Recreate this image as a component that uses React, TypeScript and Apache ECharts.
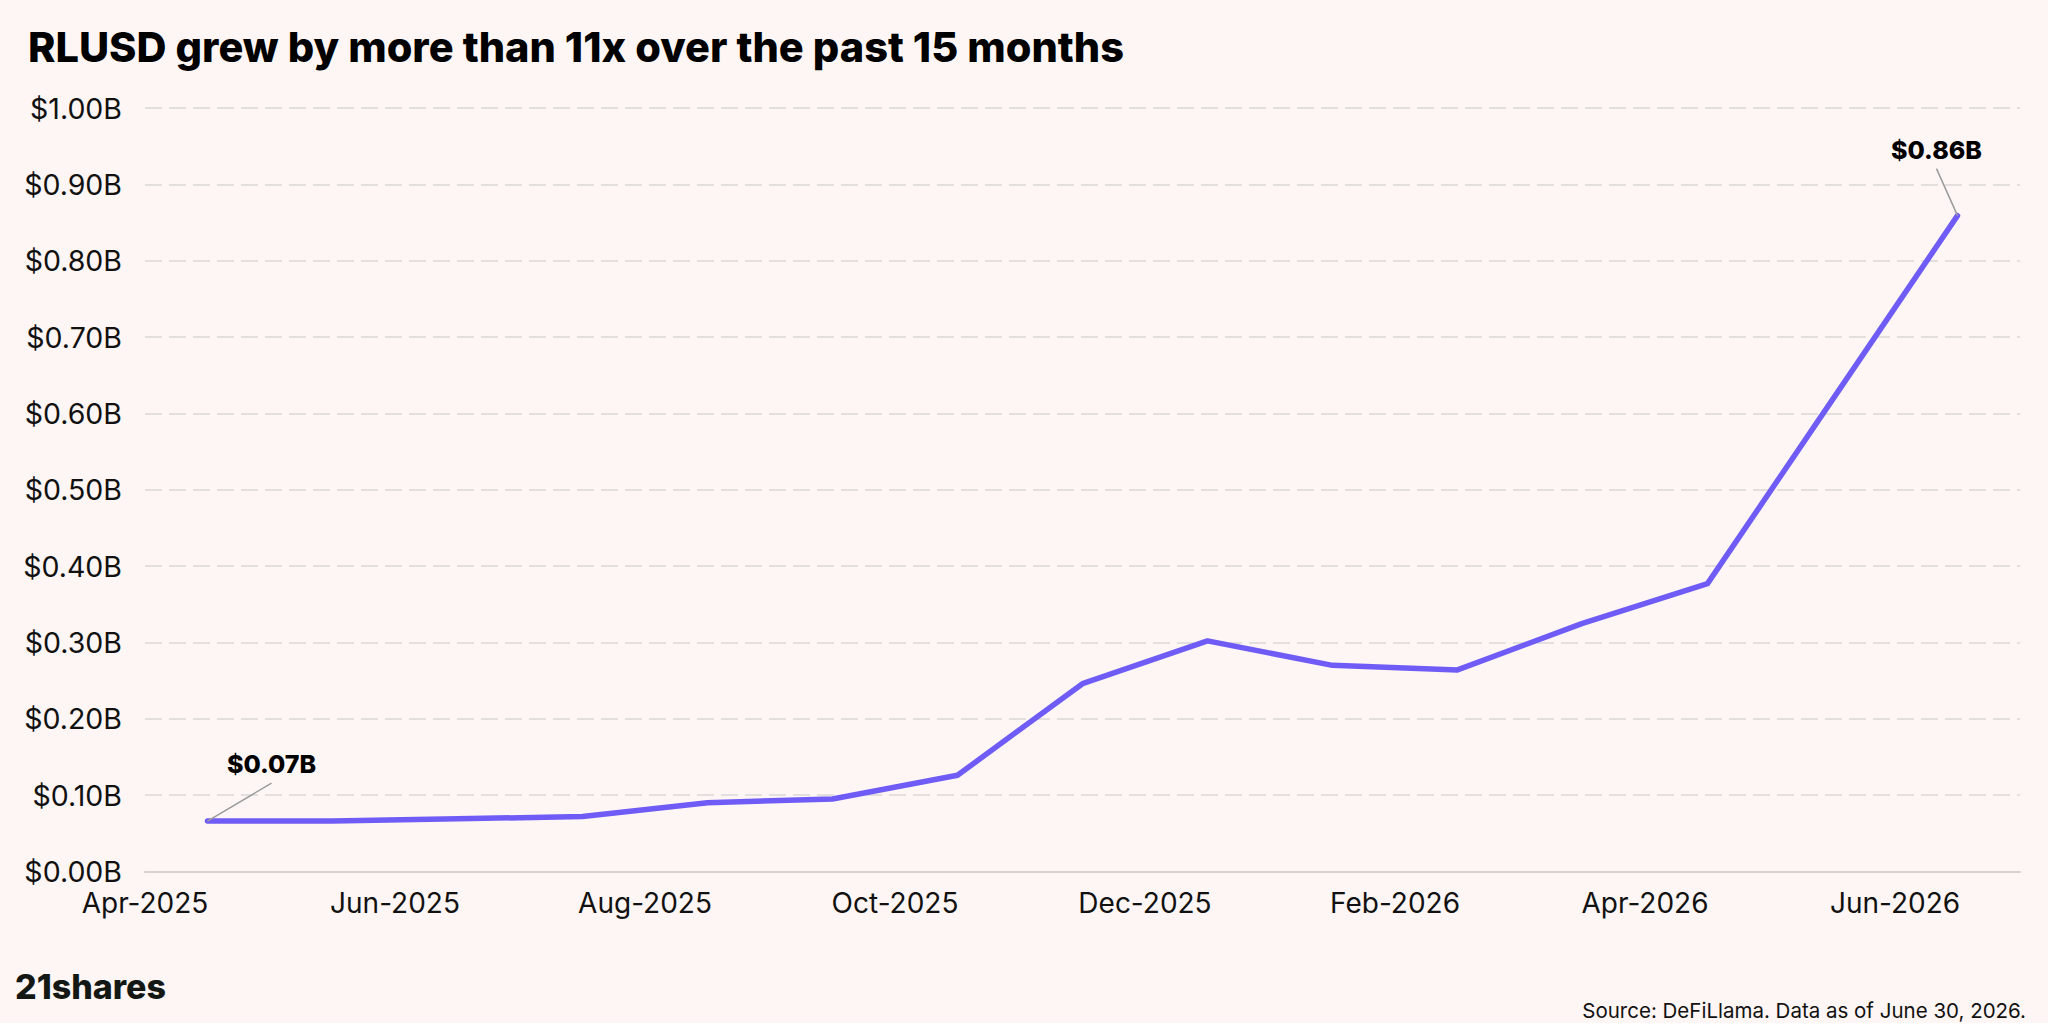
import React, { useEffect, useRef } from "react";
import * as echarts from "echarts";

const months = [
  "Apr-2025", "May-2025", "Jun-2025", "Jul-2025", "Aug-2025", "Sep-2025", "Oct-2025",
  "Nov-2025", "Dec-2025", "Jan-2026", "Feb-2026", "Mar-2026", "Apr-2026", "May-2026", "Jun-2026",
];
const values = [
  0.066, 0.066, 0.069, 0.072, 0.090, 0.095, 0.126,
  0.246, 0.302, 0.270, 0.264, 0.325, 0.377, 0.618, 0.859,
];
const tickLabels = [
  "Apr-2025", "Jun-2025", "Aug-2025", "Oct-2025", "Dec-2025", "Feb-2026", "Apr-2026", "Jun-2026",
];
const annotatedIdx = [0, 14];
const titleText = "RLUSD grew by more than 11x over the past 15 months";
const sourceText = "Source: DeFiLlama. Data as of June 30, 2026.";
const logoText = "21shares";

const FONT = "Inter, 'Noto Sans', Arial, sans-serif";
const BG = "#FDF6F4";
const LINE = "#6F5CF6";

export default function App() {
  const ref = useRef<HTMLDivElement>(null);
  useEffect(() => {
    document.body.style.margin = "0";
    document.body.style.background = "#ffffff";
    const chart = echarts.init(ref.current!, null, { renderer: "svg" });
    const data = months.map((m, i) => [i + 0.5, values[i]]);
    chart.setOption({
      animation: false,
      backgroundColor: BG,
      title: {
        text: titleText,
        left: 23,
        top: 21,
        textStyle: { fontFamily: FONT, fontSize: 41.5, fontWeight: 800, color: "#000" },
      },
      grid: { left: 145, right: 28, top: 108, bottom: 151.5, containLabel: false },
      xAxis: {
        type: "value",
        min: 0,
        max: 15,
        interval: 2,
        axisLine: { show: true, lineStyle: { color: "#D6D2D0", width: 2 } },
        axisTick: { show: false },
        splitLine: { show: false },
        axisLabel: {
          margin: 17,
          fontFamily: FONT,
          fontSize: 28,
          color: "#111",
          showMaxLabel: false,
          formatter: (v: number) => (v % 2 === 0 && tickLabels[v / 2]) ? tickLabels[v / 2] : "",
        },
      },
      yAxis: {
        type: "value",
        min: 0,
        max: 1,
        interval: 0.1,
        axisLine: { show: false },
        axisTick: { show: false },
        splitLine: {
          show: true,
          lineStyle: { color: "#E3DFDD", width: 2, type: [17, 7] },
        },
        axisLabel: {
          margin: 23,
          fontFamily: FONT,
          fontSize: 28.5,
          color: "#111",
          formatter: (v: number) => "$" + v.toFixed(2) + "B",
        },
      },
      series: [
        {
          type: "line",
          data,
          symbol: "none",
          lineStyle: { color: LINE, width: 5.5, cap: "round", join: "round" },
          z: 5,
        },
      ],
    });

    const offs: Record<number, [number, number]> = { 0: [64, -57], 14: [-21, -66] };
    const graphics: any[] = [];
    annotatedIdx.forEach((i) => {
      const p = chart.convertToPixel({ gridIndex: 0 }, [i + 0.5, values[i]]) as number[];
      const [dx, dy] = offs[i];
      const tx = p[0] + dx;
      const ty = p[1] + dy;
      graphics.push({
        type: "line",
        shape: { x1: p[0], y1: p[1], x2: tx, y2: ty + 19 },
        style: { stroke: "#9A9A9A", lineWidth: 1.5 },
        z: 10,
      });
      graphics.push({
        type: "text",
        x: tx,
        y: ty,
        style: {
          text: "$" + values[i].toFixed(2) + "B",
          fontFamily: FONT,
          fontSize: 25,
          fontWeight: 800,
          fill: "#000",
          align: "center",
          verticalAlign: "middle",
        },
        z: 10,
      });
    });
    graphics.push({
      type: "text",
      x: 15,
      y: 986,
      style: {
        text: logoText,
        fontFamily: FONT,
        fontSize: 34,
        fontWeight: 800,
        fill: "#141814",
        align: "left",
        verticalAlign: "middle",
      },
    });
    graphics.push({
      type: "text",
      x: 2026,
      y: 1010,
      style: {
        text: sourceText,
        fontFamily: FONT,
        fontSize: 20.5,
        fill: "#111",
        align: "right",
        verticalAlign: "middle",
      },
    });
    chart.setOption({ graphic: graphics });
    return () => chart.dispose();
  }, []);
  return <div ref={ref} style={{ width: 2048, height: 1023 }} />;
}
